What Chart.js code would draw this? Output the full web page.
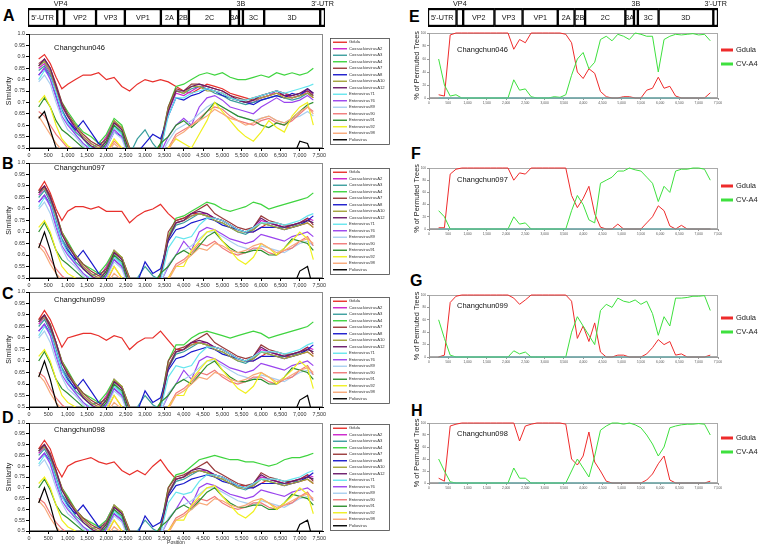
<!DOCTYPE html>
<html><head><meta charset="utf-8">
<script src="https://cdn.jsdelivr.net/npm/chart.js@4.4.0/dist/chart.umd.min.js"></script>
<style>
html,body{margin:0;padding:0;background:#fff}
body{width:760px;height:546px;position:relative;overflow:hidden;font-family:"Liberation Sans",Arial,sans-serif}
canvas{position:absolute}
.lt{position:absolute;font-weight:bold;font-size:16px;line-height:16px;color:#000}
</style></head><body>
<div class="lt" style="left:3px;top:8px">A</div>
<div class="lt" style="left:2px;top:156px">B</div>
<div class="lt" style="left:2px;top:286px">C</div>
<div class="lt" style="left:2px;top:410px">D</div>
<div class="lt" style="left:409px;top:9px">E</div>
<div class="lt" style="left:411px;top:146px">F</div>
<div class="lt" style="left:410px;top:273px">G</div>
<div class="lt" style="left:411px;top:403px">H</div>
<canvas id="mapL" width="340" height="32" style="left:0;top:0;width:340px;height:32px"></canvas>
<canvas id="mapR" width="370" height="32" style="left:390px;top:0;width:370px;height:32px"></canvas>
<canvas id="simA" width="390" height="130" style="left:0;top:28px;width:390px;height:130px"></canvas>
<canvas id="simB" width="390" height="131" style="left:0;top:157px;width:390px;height:131px"></canvas>
<canvas id="simC" width="390" height="131" style="left:0;top:286px;width:390px;height:131px"></canvas>
<canvas id="simD" width="390" height="129" style="left:0;top:417px;width:390px;height:129px"></canvas>
<canvas id="bootE" width="370" height="80" style="left:390px;top:28px;width:370px;height:80px"></canvas>
<canvas id="bootF" width="370" height="76" style="left:390px;top:163px;width:370px;height:76px"></canvas>
<canvas id="bootG" width="370" height="77" style="left:390px;top:290px;width:370px;height:77px"></canvas>
<canvas id="bootH" width="370" height="75" style="left:390px;top:418px;width:370px;height:75px"></canvas>
<script>
// ---------------- DATA ----------------
// Genome map segments (nt)
const segNames = ["5'-UTR","VP4","VP2","VP3","VP1","2A","2B","2C","3A","3B","3C","3D","3'-UTR"];
const segStart = [0,730,900,1700,2420,3320,3750,4020,5050,5270,5370,5900,7300];
const segEnd   = [730,900,1700,2420,3320,3750,4020,5050,5270,5370,5900,7300,7420];
const segAbove = ["VP4","3B","3'-UTR"];

// Axis tick labels
const positionTicks = [0,500,1000,1500,2000,2500,3000,3500,4000,4500,5000,5500,6000,6500,7000,7500];

// Similarity plots (A-D)
const simSeriesNames = ["Gdula","CoxsackievirusA2","CoxsackievirusA3","CoxsackievirusA4","CoxsackievirusA7","CoxsackievirusA8","CoxsackievirusA10","CoxsackievirusA12","Enterovirus71","Enterovirus76","Enterovirus89","Enterovirus90","Enterovirus91","Enterovirus92","Enterovirus98","Poliovirus"];
const simPositions = [250,400,550,700,850,1000,1200,1400,1600,1800,2000,2200,2400,2600,2800,3000,3200,3400,3600,3800,4000,4200,4400,4600,4800,5000,5200,5400,5600,5800,6000,6200,6400,6600,6800,7000,7200,7350];

const gdulaA = [0.89,0.91,0.87,0.81,0.76, 0.78,0.80,0.82,0.82,0.83, 0.80,0.81,0.77,0.75,0.78, 0.80,0.79,0.80,0.79,0.77, 0.75,0.74,0.76,0.78,0.77, 0.76,0.74,0.73,0.72,0.71, 0.72,0.73,0.74,0.73,0.72, 0.73,0.74,0.72];
const cva4A  = [0.86,0.88,0.84,0.77,0.70, 0.66,0.61,0.57,0.55,0.52, 0.56,0.63,0.60,0.50,0.46, 0.45,0.46,0.52,0.68,0.77, 0.78,0.80,0.82,0.83,0.82, 0.83,0.81,0.80,0.80,0.81, 0.82,0.81,0.83,0.82,0.83, 0.82,0.83,0.85];
const cva2A  = [0.85,0.87,0.83,0.76,0.68, 0.64,0.58,0.55,0.52,0.50, 0.55,0.62,0.58,0.48,0.45, 0.45,0.47,0.50,0.66,0.74, 0.73,0.75,0.77,0.76,0.75, 0.74,0.72,0.71,0.70,0.70, 0.72,0.73,0.75,0.74,0.72, 0.73,0.75,0.74];
const cva3A  = [0.84,0.86,0.82,0.74,0.67, 0.62,0.57,0.54,0.50,0.52, 0.53,0.60,0.56,0.47,0.54, 0.58,0.52,0.48,0.67,0.75, 0.74,0.76,0.77,0.76,0.74, 0.73,0.71,0.70,0.69,0.70, 0.71,0.72,0.73,0.72,0.71, 0.72,0.74,0.73];
const cva7A  = [0.87,0.89,0.85,0.78,0.70, 0.65,0.60,0.56,0.53,0.51, 0.54,0.61,0.59,0.50,0.46, 0.45,0.47,0.51,0.68,0.76, 0.75,0.78,0.78,0.77,0.76, 0.75,0.73,0.72,0.71,0.72, 0.73,0.74,0.75,0.74,0.73, 0.74,0.75,0.73];
const cva8A  = [0.82,0.85,0.81,0.73,0.66, 0.62,0.58,0.62,0.57,0.52, 0.50,0.57,0.55,0.46,0.48, 0.52,0.56,0.54,0.64,0.72, 0.71,0.73,0.74,0.76,0.75, 0.73,0.72,0.71,0.70,0.69, 0.71,0.72,0.73,0.72,0.74, 0.73,0.76,0.74];
const cva10A = [0.86,0.88,0.84,0.76,0.69, 0.64,0.60,0.55,0.52,0.50, 0.53,0.62,0.59,0.49,0.45, 0.45,0.46,0.50,0.67,0.75, 0.74,0.77,0.77,0.75,0.75, 0.74,0.72,0.71,0.70,0.71, 0.72,0.73,0.74,0.72,0.72, 0.73,0.74,0.72];
const cva12A = [0.86,0.89,0.85,0.77,0.69, 0.64,0.59,0.54,0.51,0.49, 0.53,0.61,0.58,0.48,0.45, 0.45,0.46,0.50,0.66,0.75, 0.75,0.77,0.78,0.77,0.76, 0.75,0.73,0.71,0.70,0.71, 0.73,0.74,0.75,0.73,0.73, 0.74,0.76,0.74];
const ev71A  = [0.80,0.84,0.81,0.74,0.66, 0.61,0.56,0.52,0.50,0.48, 0.52,0.59,0.56,0.47,0.45, 0.45,0.45,0.49,0.64,0.72, 0.72,0.74,0.75,0.76,0.75, 0.74,0.72,0.71,0.71,0.72, 0.73,0.74,0.75,0.74,0.75, 0.76,0.77,0.78];
const ev76A  = [0.82,0.85,0.80,0.72,0.64, 0.60,0.56,0.52,0.49,0.47, 0.51,0.58,0.55,0.46,0.45, 0.45,0.45,0.48,0.55,0.60, 0.63,0.60,0.68,0.72,0.73, 0.71,0.68,0.67,0.66,0.65, 0.68,0.70,0.72,0.70,0.70, 0.71,0.73,0.71];
const ev89A  = [0.79,0.82,0.78,0.70,0.63, 0.58,0.55,0.51,0.48,0.47, 0.50,0.57,0.54,0.45,0.45, 0.45,0.45,0.47,0.53,0.58, 0.60,0.62,0.65,0.68,0.70, 0.68,0.66,0.64,0.63,0.62, 0.63,0.64,0.62,0.61,0.63, 0.64,0.66,0.64];
const ev90A  = [0.66,0.64,0.60,0.56,0.53, 0.50,0.48,0.46,0.45,0.45, 0.48,0.53,0.50,0.45,0.45, 0.45,0.45,0.46,0.50,0.56, 0.58,0.60,0.63,0.66,0.68, 0.67,0.64,0.62,0.61,0.60, 0.62,0.63,0.61,0.60,0.62, 0.65,0.68,0.66];
const ev91A  = [0.68,0.72,0.68,0.62,0.58, 0.56,0.53,0.50,0.49,0.48, 0.52,0.60,0.57,0.46,0.45, 0.45,0.47,0.52,0.55,0.60, 0.62,0.59,0.62,0.66,0.70, 0.68,0.66,0.64,0.63,0.62, 0.60,0.59,0.61,0.60,0.63, 0.66,0.69,0.70];
const ev92A  = [0.70,0.73,0.68,0.60,0.54, 0.51,0.49,0.47,0.46,0.45, 0.48,0.54,0.50,0.45,0.45, 0.45,0.45,0.47,0.50,0.54, 0.52,0.50,0.56,0.62,0.70, 0.66,0.62,0.58,0.55,0.53, 0.57,0.62,0.59,0.57,0.64, 0.68,0.70,0.60];
const ev98A  = [0.64,0.60,0.56,0.52,0.49, 0.47,0.46,0.45,0.45,0.45, 0.47,0.52,0.49,0.45,0.45, 0.45,0.45,0.46,0.49,0.55, 0.57,0.60,0.62,0.64,0.67, 0.65,0.63,0.62,0.60,0.61, 0.63,0.64,0.62,0.61,0.63, 0.66,0.68,0.65];
const polioA = [0.63,0.66,0.58,0.50,0.45, 0.45,0.45,0.45,0.45,0.45, 0.45,0.45,0.45,0.45,0.45, 0.45,0.45,0.45,0.45,0.45, 0.45,0.45,0.45,0.45,0.45, 0.45,0.45,0.45,0.45,0.45, 0.45,0.45,0.45,0.45,0.45, 0.53,0.52,0.45];

const gdulaB = [0.88,0.92,0.87,0.80,0.75, 0.79,0.81,0.81,0.80,0.81, 0.79,0.79,0.79,0.74,0.77, 0.79,0.80,0.82,0.78,0.75, 0.76,0.78,0.78,0.77,0.76, 0.75,0.73,0.71,0.70,0.70, 0.72,0.74,0.73,0.72,0.72, 0.73,0.74,0.72];
const gdulaC = [0.88,0.92,0.88,0.82,0.76, 0.80,0.81,0.82,0.82,0.81, 0.79,0.81,0.80,0.75,0.78, 0.80,0.80,0.83,0.79,0.75, 0.75,0.78,0.78,0.77,0.76, 0.75,0.73,0.71,0.70,0.70, 0.72,0.74,0.73,0.72,0.72, 0.73,0.74,0.72];
const gdulaD = [0.88,0.92,0.88,0.80,0.75, 0.80,0.82,0.83,0.84,0.82, 0.81,0.82,0.78,0.76,0.78, 0.76,0.80,0.83,0.78,0.74, 0.75,0.77,0.78,0.77,0.76, 0.75,0.73,0.71,0.71,0.70, 0.72,0.74,0.73,0.72,0.72, 0.73,0.74,0.72];
const cva4B  = [0.87,0.90,0.85,0.78,0.70, 0.66,0.60,0.56,0.54,0.52, 0.56,0.62,0.59,0.50,0.46, 0.45,0.46,0.52,0.68,0.76, 0.77,0.79,0.81,0.83,0.82, 0.80,0.79,0.80,0.81,0.83, 0.82,0.80,0.81,0.82,0.83, 0.84,0.85,0.87];
const cva4C  = [0.87,0.90,0.86,0.78,0.70, 0.66,0.60,0.56,0.54,0.52, 0.56,0.62,0.59,0.50,0.46, 0.45,0.46,0.52,0.70,0.77, 0.77,0.80,0.82,0.83,0.82, 0.81,0.80,0.81,0.82,0.83, 0.82,0.80,0.81,0.82,0.83, 0.84,0.85,0.87];
const cva4D  = [0.87,0.90,0.85,0.77,0.70, 0.66,0.60,0.56,0.54,0.52, 0.55,0.62,0.59,0.50,0.46, 0.45,0.46,0.52,0.70,0.76, 0.77,0.80,0.83,0.84,0.85, 0.84,0.83,0.83,0.82,0.82, 0.81,0.80,0.81,0.83,0.84, 0.84,0.85,0.86];

const cva2BCD  = [0.86,0.89,0.84,0.77,0.69, 0.65,0.59,0.55,0.52,0.50, 0.55,0.62,0.58,0.48,0.45, 0.45,0.47,0.51,0.68,0.74, 0.75,0.77,0.78,0.78,0.76, 0.75,0.73,0.71,0.70,0.71, 0.75,0.74,0.73,0.72,0.73, 0.74,0.76,0.75];
const cva3BCD  = [0.85,0.88,0.83,0.75,0.67, 0.63,0.57,0.54,0.51,0.52, 0.53,0.60,0.56,0.47,0.50, 0.55,0.51,0.49,0.67,0.73, 0.74,0.76,0.78,0.77,0.75, 0.74,0.72,0.70,0.69,0.71, 0.74,0.73,0.72,0.72,0.73, 0.73,0.75,0.74];
const cva7BCD  = [0.88,0.90,0.86,0.78,0.70, 0.65,0.60,0.56,0.53,0.51, 0.54,0.61,0.59,0.50,0.46, 0.45,0.47,0.51,0.70,0.75, 0.76,0.78,0.80,0.82,0.78, 0.76,0.74,0.72,0.71,0.72, 0.77,0.75,0.74,0.73,0.73, 0.74,0.76,0.73];
const cva8BCD  = [0.83,0.86,0.82,0.74,0.66, 0.62,0.58,0.62,0.57,0.52, 0.50,0.58,0.55,0.47,0.48, 0.57,0.52,0.54,0.66,0.71, 0.72,0.74,0.75,0.76,0.75, 0.73,0.72,0.71,0.70,0.70, 0.72,0.72,0.72,0.71,0.72, 0.73,0.75,0.77];
const cva10BCD = [0.87,0.89,0.85,0.77,0.70, 0.64,0.60,0.55,0.52,0.50, 0.53,0.62,0.59,0.49,0.45, 0.45,0.46,0.50,0.68,0.74, 0.75,0.77,0.78,0.77,0.75, 0.74,0.72,0.70,0.70,0.71, 0.74,0.73,0.72,0.71,0.72, 0.73,0.74,0.72];
const cva12BCD = [0.87,0.90,0.85,0.78,0.69, 0.64,0.59,0.54,0.51,0.49, 0.53,0.61,0.58,0.48,0.45, 0.45,0.46,0.50,0.67,0.74, 0.75,0.78,0.79,0.78,0.76, 0.75,0.73,0.71,0.70,0.72, 0.76,0.74,0.73,0.72,0.73, 0.74,0.75,0.74];
const ev71BCD  = [0.81,0.85,0.82,0.74,0.66, 0.61,0.56,0.52,0.50,0.48, 0.52,0.59,0.56,0.47,0.45, 0.45,0.45,0.49,0.63,0.68, 0.67,0.68,0.73,0.76,0.76, 0.75,0.73,0.71,0.70,0.72, 0.74,0.74,0.74,0.73,0.74, 0.75,0.77,0.78];
const ev76BCD  = [0.83,0.86,0.81,0.72,0.64, 0.60,0.56,0.52,0.49,0.47, 0.51,0.58,0.55,0.46,0.45, 0.45,0.45,0.48,0.55,0.60, 0.66,0.62,0.70,0.72,0.71, 0.69,0.67,0.66,0.65,0.66, 0.69,0.68,0.67,0.66,0.68, 0.69,0.70,0.68];
const ev89BCD  = [0.80,0.83,0.78,0.70,0.63, 0.58,0.55,0.51,0.48,0.47, 0.50,0.57,0.54,0.45,0.45, 0.45,0.45,0.48,0.56,0.60, 0.62,0.64,0.67,0.70,0.70, 0.68,0.66,0.64,0.63,0.62, 0.64,0.63,0.62,0.61,0.63, 0.65,0.66,0.64];
const ev90BCD  = [0.65,0.63,0.58,0.54,0.51, 0.49,0.47,0.46,0.45,0.45, 0.48,0.55,0.50,0.45,0.45, 0.45,0.45,0.46,0.50,0.56, 0.58,0.61,0.65,0.64,0.66, 0.63,0.61,0.60,0.61,0.63, 0.63,0.61,0.60,0.62,0.63, 0.66,0.68,0.64];
const ev91BCD  = [0.70,0.74,0.69,0.62,0.58, 0.56,0.53,0.50,0.49,0.48, 0.52,0.60,0.57,0.46,0.45, 0.45,0.47,0.52,0.55,0.60, 0.62,0.60,0.64,0.68,0.70, 0.66,0.63,0.61,0.61,0.62, 0.62,0.60,0.60,0.63,0.67, 0.66,0.65,0.62];
const ev92BCD  = [0.72,0.75,0.70,0.62,0.55, 0.52,0.50,0.47,0.46,0.45, 0.49,0.55,0.50,0.45,0.45, 0.45,0.45,0.47,0.50,0.55, 0.55,0.62,0.66,0.70,0.71, 0.66,0.62,0.58,0.56,0.59, 0.65,0.63,0.60,0.63,0.66, 0.70,0.67,0.58];
const ev98BCD  = [0.64,0.61,0.56,0.52,0.49, 0.47,0.46,0.45,0.45,0.45, 0.47,0.52,0.49,0.45,0.45, 0.45,0.45,0.46,0.49,0.55, 0.57,0.60,0.63,0.62,0.65, 0.64,0.62,0.61,0.62,0.64, 0.65,0.63,0.61,0.62,0.64, 0.66,0.67,0.65];
const polioBCD = [0.63,0.70,0.62,0.52,0.45, 0.45,0.45,0.45,0.45,0.45, 0.45,0.45,0.45,0.45,0.45, 0.45,0.45,0.45,0.45,0.45, 0.45,0.45,0.45,0.45,0.45, 0.45,0.45,0.45,0.45,0.45, 0.45,0.45,0.45,0.45,0.45, 0.53,0.55,0.45];

// Bootscan plots (E-H)
const bootPositions = [250,400,550,700,850, 1000,1150,1300,1450,1600, 1750,1900,2050,2200,2350, 2500,2650,2800,2950,3100, 3250,3400,3550,3700,3850, 4000,4150,4300,4450,4600, 4750,4900,5050,5200,5350, 5500,5650,5800,5950,6100, 6250,6400,6550,6700,6850, 7000,7150,7300];
const gdulaBootE = [5,3,97,100,100, 100,100,100,100,100, 100,100,100,75,90, 85,100,100,100,100, 100,100,98,85,40, 30,45,38,10,2, 0,0,2,2,0, 0,12,15,32,15, 18,3,0,0,0, 0,0,8];
const cva4BootE  = [60,20,3,5,0, 0,0,0,0,0, 0,0,0,28,12, 14,2,0,0,0, 2,1,5,35,60, 70,45,55,90,95, 88,98,95,90,100, 98,95,95,40,90, 95,98,97,98,99, 97,98,88];
const gdulaBootF = [2,2,90,98,100, 100,100,100,100,100, 100,100,100,80,92, 90,100,100,100,100, 100,100,100,55,35, 50,70,25,3,0, 0,8,0,0,0, 0,10,20,38,30, 5,0,6,0,0, 0,0,0];
const cva4BootF  = [30,20,0,0,0, 0,0,0,0,0, 0,0,0,20,8, 10,0,0,0,0, 0,0,0,30,55, 40,15,10,75,80, 85,95,95,100,97, 95,85,75,45,70, 60,95,98,98,100, 100,98,80];
const gdulaBootG = [0,3,88,98,100, 100,100,100,100,100, 100,100,100,95,85, 92,100,100,100,100, 100,100,100,90,30, 50,25,55,8,0, 0,3,3,0,0, 0,5,15,28,20, 25,3,5,0,0, 0,0,3];
const cva4BootG  = [60,30,3,0,0, 0,0,0,0,0, 0,0,0,10,5, 8,0,0,0,0, 0,0,0,40,65, 50,35,20,75,85, 80,95,90,88,92, 85,90,70,35,65, 50,95,95,96,98, 98,99,75];
const gdulaBootH = [8,3,95,98,100, 100,100,100,100,100, 100,100,100,100,70, 95,98,100,100,100, 100,100,98,40,30, 45,85,35,20,3, 0,0,0,0,0, 0,5,15,32,45, 5,0,0,0,0, 0,0,3];
const cva4BootH  = [40,20,2,0,0, 0,0,0,0,0, 0,0,0,25,8, 8,0,0,0,0, 0,0,0,20,40, 25,10,45,88,95, 100,100,98,100,97, 92,80,65,45,60, 92,95,97,98,98, 99,98,80];
const othersBoot = [0,0,0,0,0, 0,0,0,0,0, 0,0,0,0,0, 0,0,0,0,0, 0,0,0,0,0, 0,0,0,0,0, 0,0,0,0,0, 0,0,0,0,0, 0,0,0,0,0, 0,0,0];

// ---------------- STYLE ----------------
const FONT = '"Liberation Sans", Arial, Helvetica, sans-serif';
Chart.defaults.font.family = FONT;
Chart.defaults.color = '#333';
const simColors = ['#e8302c','#cc22cc','#3a9e9e','#3fd43f','#9a3c3c','#1a1acc','#a3a33a','#6a1a6a','#66e6ee','#9a44ee','#a8cff0','#f07a7a','#2f8f2f','#f0f020','#f8a878','#000000'];

const pts = (xs, ys) => xs.map((x, i) => ({x: x, y: ys[i]}));
const fixedTicks = s => { s.ticks = positionTicks.map(v => ({value: v})); };

const framePlugin = {
  id: 'frame',
  beforeDraw(chart, args, o) {
    if (!o || !o.color) return;
    const a = chart.chartArea, c = chart.ctx;
    c.save(); c.strokeStyle = o.color; c.lineWidth = 1;
    c.strokeRect(Math.round(a.left) + 0.5, Math.round(a.top) + 0.5, Math.round(a.right - a.left) - 1, Math.round(a.bottom - a.top) - 1);
    c.restore();
  }
};
const notePlugin = {
  id: 'note',
  afterDraw(chart, args, o) {
    if (!o || !o.text) return;
    const a = chart.chartArea, c = chart.ctx;
    c.save(); c.font = o.size + 'px ' + FONT; c.fillStyle = '#111';
    c.textAlign = 'left'; c.textBaseline = 'middle';
    c.fillText(o.text, a.left + o.dx, a.top + o.dy);
    c.restore();
  }
};
const boxLegendPlugin = {
  id: 'boxLegend',
  afterDraw(chart, args, o) {
    if (!o || !o.w) return;
    const a = chart.chartArea, c = chart.ctx;
    const ds = chart.data.datasets.filter(d => !d.hideInLegend);
    const bh = ds.length * o.rowH + 2;
    const bx = o.x, by = Math.round((a.top + a.bottom) / 2 - bh / 2);
    c.save();
    c.fillStyle = '#fff'; c.fillRect(bx, by, o.w, bh);
    c.strokeStyle = '#444'; c.lineWidth = 0.8; c.strokeRect(bx + 0.5, by + 0.5, o.w, bh);
    c.beginPath(); c.rect(bx, by, o.w, bh); c.clip();
    c.font = o.size + 'px ' + FONT; c.textBaseline = 'middle'; c.textAlign = 'left';
    ds.forEach((d, i) => {
      const y = by + 1 + o.rowH * (i + 0.5);
      c.strokeStyle = d.borderColor; c.lineWidth = 1.4;
      c.beginPath(); c.moveTo(bx + 3, y); c.lineTo(bx + 17, y); c.stroke();
      c.fillStyle = '#333'; c.fillText(d.label, bx + 19, y);
    });
    c.restore();
  }
};
const sideLegendPlugin = {
  id: 'sideLegend',
  afterDraw(chart, args, o) {
    if (!o || !o.size) return;
    const a = chart.chartArea, c = chart.ctx;
    const ds = chart.data.datasets.filter(d => !d.hideInLegend);
    c.save(); c.font = o.size + 'px ' + FONT; c.textBaseline = 'middle'; c.textAlign = 'left';
    ds.forEach((d, i) => {
      const y = a.top + o.dy + i * o.gap;
      c.strokeStyle = d.borderColor; c.lineWidth = 3;
      c.beginPath(); c.moveTo(a.right + 3, y); c.lineTo(a.right + 15, y); c.stroke();
      c.fillStyle = '#222'; c.fillText(d.label, a.right + 18, y);
    });
    c.restore();
  }
};
const mapLabelPlugin = {
  id: 'mapLabels',
  afterDatasetsDraw(chart) {
    const c = chart.ctx;
    c.save(); c.font = '7.2px ' + FONT; c.fillStyle = '#111';
    c.textAlign = 'center'; c.textBaseline = 'middle';
    chart.data.datasets.forEach((d, i) => {
      const el = chart.getDatasetMeta(i).data[0];
      const cx = (el.x + el.base) / 2;
      if (segAbove.includes(d.label)) c.fillText(d.label, cx, chart.chartArea.top - 4);
      else c.fillText(d.label, cx, el.y + 0.5);
    });
    c.restore();
  }
};

function genomeMap(id, padL, padR) {
  const datasets = segNames.map((n, i) => ({
    label: n, data: [[segStart[i], segEnd[i]]],
    backgroundColor: '#fff', borderColor: '#000',
    borderWidth: {top: 2.5, bottom: 2.5, left: 1.5, right: 1.5}, borderSkipped: false,
    grouped: false, barPercentage: 1, categoryPercentage: 1
  }));
  return new Chart(document.getElementById(id), {
    type: 'bar',
    data: {labels: ['genome'], datasets},
    options: {
      indexAxis: 'y', responsive: false, animation: false, devicePixelRatio: 1,
      layout: {padding: {left: padL, right: padR, top: 8, bottom: 5}},
      scales: {x: {type: 'linear', display: false, min: 0, max: 7420}, y: {display: false}},
      plugins: {legend: {display: false}, tooltip: {enabled: false}}
    },
    plugins: [mapLabelPlugin]
  });
}

function simChart(id, note, noteDy, series, showXTitle) {
  const datasets = series.map((vals, i) => ({
    label: simSeriesNames[i], data: pts(simPositions, vals),
    borderColor: simColors[i], backgroundColor: simColors[i],
    borderWidth: 1.2, pointRadius: 0, tension: 0, order: -i
  }));
  return new Chart(document.getElementById(id), {
    type: 'line',
    data: {datasets},
    options: {
      responsive: false, animation: false, devicePixelRatio: 1,
      layout: {padding: {left: 0, right: 67, top: 6, bottom: 0}},
      scales: {
        x: {
          type: 'linear', min: 0, max: 7600,
          afterBuildTicks: fixedTicks,
          afterFit: s => { s.height = showXTitle ? 15 : 10; },
          ticks: {autoSkip: false, maxRotation: 0, font: {size: 5.4}, color: '#333', padding: 1,
                  callback: v => Number(v).toLocaleString('en-US')},
          grid: {drawOnChartArea: false, drawTicks: true, tickLength: 3, color: '#000'},
          border: {color: '#000', width: 1},
          title: {display: showXTitle, text: 'Position', font: {size: 5}, color: '#333', padding: {top: 0, bottom: 0}}
        },
        y: {
          min: 0.5, max: 1.0,
          afterFit: s => { s.width = 29; },
          ticks: {stepSize: 0.05, font: {size: 5.4}, color: '#333', padding: 1,
                  callback: v => { const r = Math.round(v * 100) / 100; return r === 1 ? '1.0' : String(r); }},
          grid: {drawOnChartArea: false, drawTicks: true, tickLength: 3, color: '#000'},
          border: {color: '#000', width: 1},
          title: {display: true, text: 'Similarity', font: {size: 7}, color: '#222', padding: {top: 5, bottom: 0}}
        }
      },
      plugins: {
        legend: {display: false}, tooltip: {enabled: false},
        frame: {color: '#8a8a8a'},
        note: {text: note, dx: 25, dy: noteDy, size: 7.5},
        boxLegend: {x: 330, w: 59, rowH: 6.5, size: 4.2}
      }
    },
    plugins: [framePlugin, notePlugin, boxLegendPlugin]
  });
}

function bootChart(id, note, noteDy, legDy, gd, cv) {
  const common = {borderWidth: 1, pointRadius: 0, tension: 0, clip: {left: 0, right: 0, top: 2, bottom: 1}};
  const datasets = [
    Object.assign({label: 'Gdula', data: pts(bootPositions, gd), borderColor: '#ee2b2b', order: 2}, common),
    Object.assign({label: 'CV-A4', data: pts(bootPositions, cv), borderColor: '#3ee03e', order: 1}, common),
    Object.assign({label: 'Other', data: pts(bootPositions, othersBoot), borderColor: '#5cb8b8', order: 0, hideInLegend: true}, common)
  ];
  return new Chart(document.getElementById(id), {
    type: 'line',
    data: {datasets},
    options: {
      responsive: false, animation: false, devicePixelRatio: 1,
      layout: {padding: {left: 0, right: 42, top: 5, bottom: 0}},
      scales: {
        x: {
          type: 'linear', min: 0, max: 7500,
          afterBuildTicks: fixedTicks,
          afterFit: s => { s.height = 10; },
          ticks: {autoSkip: false, maxRotation: 0, font: {size: 3.3}, color: '#555', padding: 1,
                  callback: v => Number(v).toLocaleString('en-US')},
          grid: {drawOnChartArea: false, drawTicks: true, tickLength: 2, color: '#999'},
          border: {color: '#999', width: 1}
        },
        y: {
          min: 0, max: 100,
          afterFit: s => { s.width = 39; },
          ticks: {stepSize: 10, font: {size: 3.2}, color: '#555', padding: 1},
          grid: {drawOnChartArea: false, drawTicks: true, tickLength: 2, color: '#999'},
          border: {color: '#999', width: 1},
          title: {display: true, text: '% of Permuted Trees', font: {size: 7.3}, color: '#222', padding: {top: 23, bottom: 0}}
        }
      },
      plugins: {
        legend: {display: false}, tooltip: {enabled: false},
        frame: {color: '#aaaaaa'},
        note: {text: note, dx: 28, dy: noteDy, size: 7.5},
        sideLegend: {size: 7.5, dy: legDy, gap: 14}
      }
    },
    plugins: [framePlugin, notePlugin, sideLegendPlugin]
  });
}

genomeMap('mapL', 28, 15);
genomeMap('mapR', 38, 42);

simChart('simA', 'Changchun046', 14, [gdulaA, cva2A, cva3A, cva4A, cva7A, cva8A, cva10A, cva12A, ev71A, ev76A, ev89A, ev90A, ev91A, ev92A, ev98A, polioA], false);
simChart('simB', 'Changchun097', 5, [gdulaB, cva2BCD, cva3BCD, cva4B, cva7BCD, cva8BCD, cva10BCD, cva12BCD, ev71BCD, ev76BCD, ev89BCD, ev90BCD, ev91BCD, ev92BCD, ev98BCD, polioBCD], false);
simChart('simC', 'Changchun099', 8, [gdulaC, cva2BCD, cva3BCD, cva4C, cva7BCD, cva8BCD, cva10BCD, cva12BCD, ev71BCD, ev76BCD, ev89BCD, ev90BCD, ev91BCD, ev92BCD, ev98BCD, polioBCD], false);
simChart('simD', 'Changchun098', 7, [gdulaD, cva2BCD, cva3BCD, cva4D, cva7BCD, cva8BCD, cva10BCD, cva12BCD, ev71BCD, ev76BCD, ev89BCD, ev90BCD, ev91BCD, ev92BCD, ev98BCD, polioBCD], true);

bootChart('bootE', 'Changchun046', 17, 17, gdulaBootE, cva4BootE);
bootChart('bootF', 'Changchun097', 12, 18, gdulaBootF, cva4BootF);
bootChart('bootG', 'Changchun099', 11, 23, gdulaBootG, cva4BootG);
bootChart('bootH', 'Changchun098', 11, 15, gdulaBootH, cva4BootH);
</script>
</body></html>
